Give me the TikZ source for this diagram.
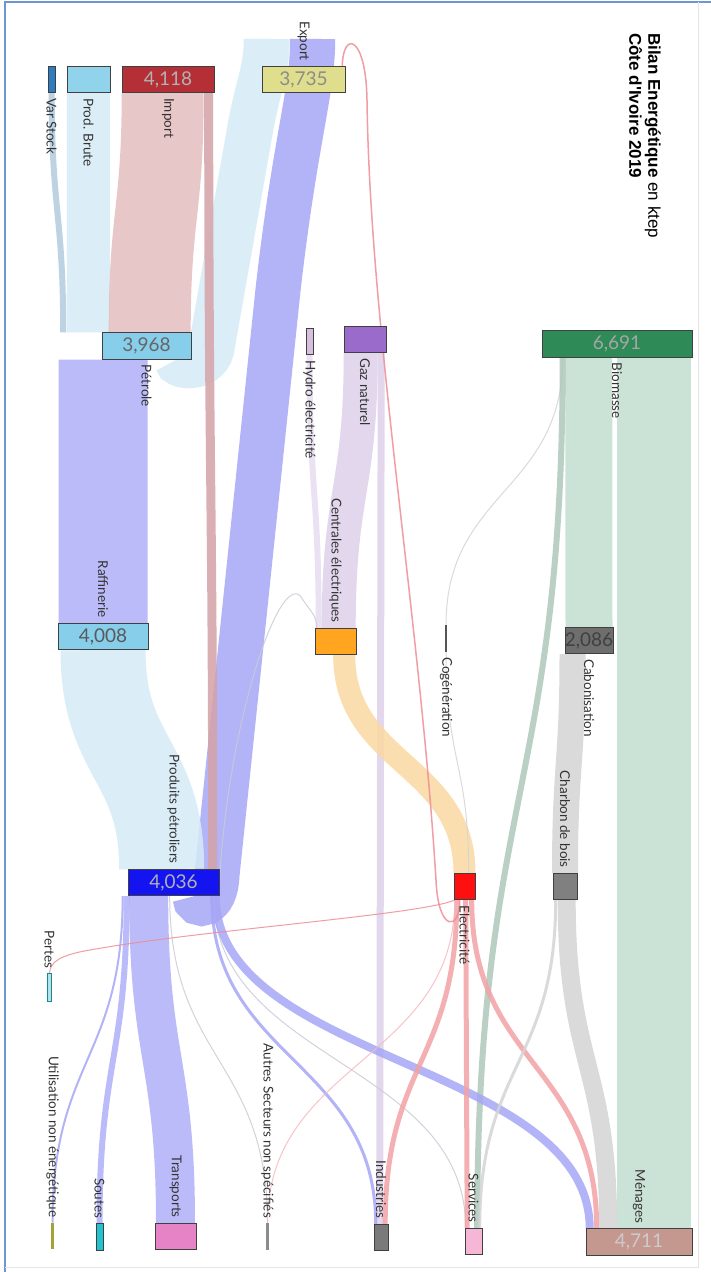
\documentclass[tikz,border=0pt]{standalone}
\usepackage{fontspec}
\setmainfont{Lato}
\newfontfamily\titlefont{Liberation Sans}
\usetikzlibrary{calc}
\pgfdeclarelayer{bg}
\pgfsetlayers{bg,main}

% node colours
\definecolor{cvst}{HTML}{2F7BBF}
\definecolor{cpbr}{HTML}{92D3EC}
\definecolor{cimp}{HTML}{B53036}
\definecolor{cexp}{HTML}{DEDE8C}
\definecolor{cpet}{HTML}{87CEEB}
\definecolor{chyd}{HTML}{D8BFE0}
\definecolor{cgaz}{HTML}{9B6BCB}
\definecolor{cbio}{HTML}{2E8B57}
\definecolor{ccen}{HTML}{FFA51F}
\definecolor{ccog}{HTML}{555555}
\definecolor{ccab}{HTML}{6E6E6E}
\definecolor{cpp}{HTML}{1414F0}
\definecolor{cele}{HTML}{FF1010}
\definecolor{cchb}{HTML}{808080}
\definecolor{cper}{HTML}{B4E2EA}
\definecolor{cuti}{HTML}{A3A33E}
\definecolor{csou}{HTML}{22C3CF}
\definecolor{ctra}{HTML}{E583C6}
\definecolor{caut}{HTML}{8C8C8C}
\definecolor{cind}{HTML}{7A7A7A}
\definecolor{cser}{HTML}{F6B6D6}
\definecolor{cmen}{HTML}{C4978F}
\definecolor{cframe}{HTML}{6E96D2}
% link colours
\definecolor{lsteel}{HTML}{B2CCE0}
\definecolor{lsky}{HTML}{D5EBF6}
\definecolor{lrose}{HTML}{E3BEBE}
\definecolor{lmauve}{HTML}{D4A2A8}
\definecolor{lblue}{HTML}{B0B0FA}
\definecolor{lblued}{HTML}{A6A6F6}
\definecolor{llav}{HTML}{DDD0EA}
\definecolor{lgreen}{HTML}{C2DECF}
\definecolor{lorange}{HTML}{FBD9A1}
\definecolor{lgray}{HTML}{D4D4D4}
\definecolor{lpink}{HTML}{F3A2A6}
\definecolor{lthin}{HTML}{CBCBD6}
\definecolor{lred}{HTML}{EE8C94}

\tikzset{
  box/.style={draw=black!75, line width=0.6pt, inner sep=0pt, minimum height=26.5pt,
    font=\fontsize{19}{19}\selectfont},
  bar/.style={inner sep=0pt, minimum height=26.5pt},
  lbl/.style={rotate=-90, inner sep=0pt, text=black!80, font=\fontsize{13.5}{14}\selectfont},
  link/.style={line cap=butt, opacity=0.85},
  hair/.style={link, line width=1pt}
}

% sankey link, top to bottom
\newcommand{\flow}[3][]{%
  \draw[link,#1] let \p1=(#2), \p2=(#3) in
    (\p1) .. controls (\x1,{0.5*\y1+0.5*\y2}) and (\x2,{0.5*\y1+0.5*\y2}) .. (\p2);}

\begin{document}
\begin{tikzpicture}[x=1pt,y=-1pt]
\useasboundingbox (0,0) rectangle (711,1272);

% sources
\node[box, fill=cvst, minimum width=7pt] (vst) at (51.5,79.5) {};
\node[box, fill=cpbr, minimum width=43pt] (pbr) at (88.5,79.5) {};
\node[box, fill=cimp, minimum width=92pt, text=black!30] (imp) at (168,79.5) {4,118};
\node[box, fill=cexp, minimum width=83pt, text=black!45] (exp) at (303.5,79.5) {3,735};
\node[box, fill=cpet, minimum width=89pt, text=black!60] (pet) at (146.5,346) {3,968};
\node[box, fill=chyd, minimum width=7pt] (hyd) at (309.5,341.5) {};
\node[box, fill=cgaz, minimum width=42pt] (gaz) at (365,339.5) {};
\node[box, fill=cbio, minimum width=150pt, text=black!35] (bio) at (617,344) {6,691};
% transformation
\node[box, fill=cpet, minimum width=90pt, text=black!65] (raf) at (103,636.5) {4,008};
\node[box, fill=ccen, minimum width=41pt] (cen) at (335.5,641.5) {};
\node[bar, fill=ccog, minimum width=2pt] (cog) at (446,638.5) {};
\node[box, fill=ccab, minimum width=48pt, text=black!75] (cab) at (589,640.5) {2,086};
\node[box, fill=cpp, minimum width=91pt, text=black!30] (pp) at (173.5,882.5) {4,036};
\node[box, fill=cele, minimum width=21pt] (ele) at (464.5,886.5) {};
\node[box, fill=cchb, minimum width=24pt] (chb) at (565,886.5) {};
% final use
\node[box, fill=cper, draw=csou!70!black, minimum width=4pt, minimum height=28pt] (per) at (49.5,987.5) {};
\node[bar, fill=cuti, minimum width=3pt] (uti) at (52.5,1236) {};
\node[box, fill=csou, minimum width=7pt] (sou) at (99.5,1237) {};
\node[box, fill=ctra, minimum width=41pt] (tra) at (175.5,1236.5) {};
\node[bar, fill=caut, minimum width=3pt] (aut) at (267.5,1236.5) {};
\node[box, fill=cind, minimum width=14pt] (ind) at (381,1237.5) {};
\node[box, fill=cser, minimum width=17pt] (ser) at (473.5,1241.5) {};
\node[box, fill=cmen, minimum width=106pt, text=black!20] (men) at (639,1242) {4,711};

\foreach \n/\t in {vst/Var Stock, pbr/Prod. Brute, imp/Import, pet/Pétrole, hyd/Hydro électricité,
    gaz/Gaz naturel, cog/Cogénération, ele/Electricité, bio/Biomasse, cab/Cabonisation}
  \node[lbl, anchor=west] (\n-l) at ([yshift=-5]\n.south) {\t};
\foreach \n/\t in {exp/Export, raf/Raffinerie, pp/Produits pétroliers, cen/Centrales électriques,
    chb/Charbon de bois, per/Pertes, uti/Utilisation non énergétique, sou/Soutes, tra/Transports,
    aut/Autres Secteurs non spécifiés, ind/Industries, ser/Services, men/Ménages}
  \node[lbl, anchor=east] (\n-l) at ([yshift=5]\n.north) {\t};

\node[rotate=-90, anchor=north west, inner sep=0pt, align=left,
  font=\titlefont\fontsize{17}{19}\selectfont] (ttl) at (661,33)
  {\textbf{Bilan Energétique} en ktep\\\textbf{Côte d'Ivoire 2019}};

\begin{pgfonlayer}{bg}
\fill[white] (0,0) rectangle (711,1272);
\draw[cframe, line width=2pt] (5,1272) -- (5,2) -- (711,2);
\draw[black!10, line width=1pt] (698,2) -- (698,1267) -- (5,1267);
% back to export
\draw[link, lsky, line width=46pt] ([xshift=75]pet.south west) .. controls (177,368) and (210,370) .. (212,345)
  -- (250,130) .. controls (258,85) and (267,70) .. ([xshift=5,yshift=27]exp.north west);
\draw[link, lblued, line width=45pt] ([xshift=67]pp.south west) .. controls (195,908) and (216,908) .. (217,875)
  -- (278,290) .. controls (295,140) and (313,90) .. ([xshift=51,yshift=27]exp.north west);
% supply
\flow[lsteel, line width=6pt]{[xshift=4]vst.south west}{[xshift=-38.5]pet.north west}
\flow[lsky, line width=43pt]{pbr.south}{[xshift=-13.5]pet.north west}
\flow[lrose, line width=82pt]{[xshift=41]imp.south west}{[xshift=48]pet.north west}
\flow[lmauve, line width=9pt]{[xshift=87]imp.south west}{[xshift=85]pp.north west}
\flow[lblue, line width=89pt]{[xshift=1.5]pet.south west}{raf.north}
\flow[lsky, line width=85pt]{raf.south}{[xshift=34]pp.north west}
% transformation
\flow[llav!70!white, line width=6pt]{hyd.south}{[xshift=4]cen.north west}
\flow[llav, line width=34pt]{[xshift=17]gaz.south west}{[xshift=24]cen.north west}
\flow[llav, line width=7pt]{[xshift=37.5]gaz.south west}{[xshift=6]ind.north west}
\flow[hair, lgray]{[xshift=21]bio.south west}{cog.north}
\flow[lgreen, line width=47pt]{[xshift=47]bio.south west}{cab.north}
\flow[lgreen, line width=74pt]{[xshift=112.5]bio.south west}{[xshift=68.5]men.north west}
\flow[lgreen!90!black, line width=6pt]{[xshift=21]bio.south west}{[xshift=12.5]ser.north west}
\flow[lorange, line width=22pt]{[xshift=29.5]cen.south west}{ele.north}
\flow[lgray, line width=26pt]{[xshift=8]cab.south west}{chb.north}
\flow[hair, lgray]{cog.south}{[xshift=15]ele.north west}
\draw[hair, lthin] ([xshift=91]pp.south west) .. controls (226,720) and (283,560) .. (303,600)
  .. controls (311,612) and (317,616) .. ([xshift=2]cen.north west);
% final use
\flow[lblued, line width=2pt]{[xshift=-5]pp.south west}{uti.north}
\flow[lblue, line width=6pt]{[xshift=-1]pp.south west}{sou.north}
\flow[lblue, line width=39pt]{[xshift=21]pp.south west}{tra.north}
\flow[hair, lthin]{[xshift=42]pp.south west}{aut.north}
\flow[lblued, line width=3pt]{[xshift=84]pp.south west}{[xshift=2]ind.north west}
\flow[hair, lthin]{[xshift=86]pp.south west}{[xshift=1]ser.north west}
\flow[lblued, line width=8pt]{[xshift=88]pp.south west}{[xshift=4]men.north west}
\flow[lpink, line width=5pt]{[xshift=3]ele.south west}{[xshift=11.5]ind.north west}
\flow[lpink, line width=5pt]{[xshift=12]ele.south west}{[xshift=2.5]ser.north west}
\flow[lpink, line width=5pt]{[xshift=18]ele.south west}{[xshift=11]men.north west}
\flow[hair, lred!60!white]{[xshift=1]ele.south west}{aut.north}
\flow[lgray, line width=3pt]{[xshift=3]chb.south west}{[xshift=15]ser.north west}
\flow[lgray, line width=18pt]{[xshift=14]chb.south west}{[xshift=22.5]men.north west}
\draw[hair, lred] ([xshift=1]ele.south west) .. controls (420,915) and (200,930) .. (90,950)
  .. controls (60,955) and (50,962) .. (per.north);
\draw[hair, lred, line width=1.5pt] ([xshift=6]ele.south west) .. controls (460,932) and (438,932) .. (436,880)
  .. controls (420,620) and (370,330) .. (367,100) .. controls (366,35) and (343,30) .. ([xshift=-3]exp.north east);
\end{pgfonlayer}
\end{tikzpicture}
\end{document}
